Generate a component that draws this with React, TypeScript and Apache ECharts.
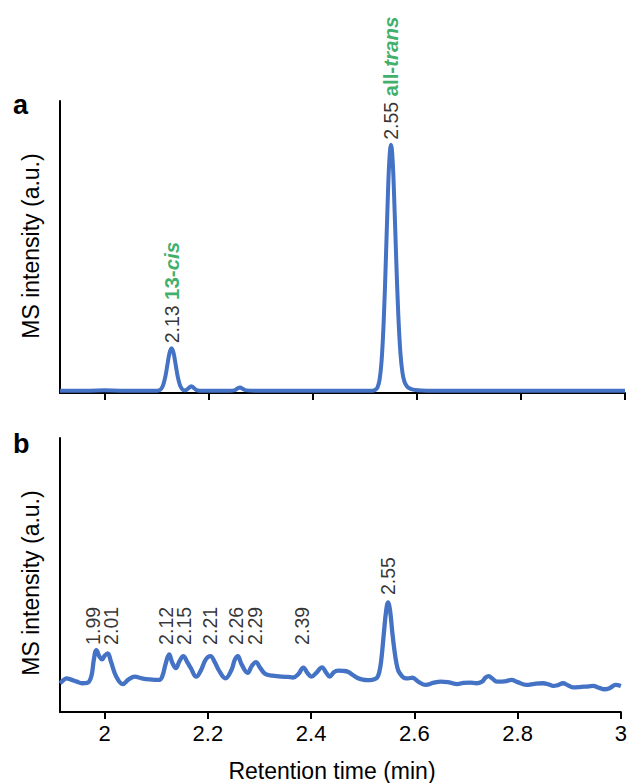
import React, { useEffect, useRef } from "react";
import * as echarts from "echarts";

const X_MIN = 1.9135;
const X_MAX = 3;
const xTickValues = [2, 2.2, 2.4, 2.6, 2.8, 3];

// Panel a: retention time (min), MS intensity (a.u.)
const traceA: [number, number][] = [
  [1.9135, 0.8], [1.94, 0.8], [1.97, 0.8], [2.0, 0.9], [2.03, 0.8], [2.07, 0.8], [2.1, 0.8],
  [2.104, 0.9], [2.108, 1.4], [2.112, 2.8], [2.116, 5.5], [2.12, 9.6], [2.124, 13.6], [2.128, 15.3],
  [2.132, 13.6], [2.136, 9.6], [2.14, 5.5], [2.144, 2.8], [2.148, 1.4], [2.152, 0.9],
  [2.156, 1.0], [2.161, 1.7], [2.166, 2.3], [2.171, 1.7], [2.176, 1.0], [2.182, 0.8],
  [2.21, 0.8], [2.24, 0.8], [2.25, 1.0], [2.255, 1.6], [2.26, 1.9], [2.265, 1.4], [2.272, 0.9],
  [2.29, 0.8], [2.33, 0.8], [2.37, 0.8], [2.41, 0.8], [2.45, 0.8], [2.49, 0.8], [2.514, 0.8],
  [2.52, 1.1], [2.524, 1.9], [2.528, 4.5], [2.532, 11.2], [2.536, 24.6], [2.54, 44.9],
  [2.544, 67.5], [2.547, 80.2], [2.55, 85], [2.553, 80.2], [2.556, 67.5], [2.56, 46],
  [2.564, 27], [2.568, 14], [2.572, 7], [2.576, 3.8], [2.581, 2.2], [2.588, 1.4], [2.597, 1.0],
  [2.62, 0.8], [2.7, 0.8], [2.8, 0.8], [2.9, 0.8], [3.0, 0.8],
];

// Panel b
const traceB: [number, number][] = [
  [1.9135, 10.5], [1.92, 11.6], [1.926, 12.3], [1.935, 11.8], [1.946, 11.1], [1.956, 10.5],
  [1.966, 10.6], [1.974, 12.9], [1.979, 19], [1.984, 22.6], [1.99, 20.2], [1.995, 19.2],
  [2.0, 20.5], [2.006, 21.4], [2.012, 18.5], [2.0225, 12.9], [2.035, 10.2], [2.046, 11.8],
  [2.058, 12.9], [2.072, 12.3], [2.087, 11.9], [2.106, 11.7], [2.112, 13.2], [2.118, 17.5],
  [2.125, 21], [2.131, 18], [2.138, 16], [2.145, 18.6], [2.1525, 20.4], [2.16, 18.2],
  [2.167, 16], [2.1775, 12.9], [2.186, 15], [2.196, 19.2], [2.205, 20.4], [2.213, 18.3],
  [2.221, 15.3], [2.234, 12.3], [2.246, 15.5], [2.252, 19], [2.258, 20.4], [2.265, 17.5],
  [2.277, 14.3], [2.285, 16.8], [2.293, 18.2], [2.301, 16.2], [2.311, 13.9], [2.325, 13.3],
  [2.343, 12.9], [2.355, 12.8], [2.365, 12.6], [2.375, 13.8], [2.385, 16.2], [2.393, 14.2],
  [2.4006, 12.9], [2.41, 14.3], [2.421, 16.3], [2.429, 14.4], [2.436, 12.9], [2.444, 14.5],
  [2.452, 15.1], [2.462, 15.0], [2.471, 14.7], [2.48, 13.6], [2.49, 12.4], [2.5, 11.8],
  [2.5096, 11.6], [2.518, 11.7], [2.5256, 12.2], [2.53, 13.3], [2.534, 16.5], [2.537, 21],
  [2.541, 29], [2.545, 36.5], [2.549, 40], [2.553, 36.8], [2.557, 29.5], [2.561, 23],
  [2.565, 18], [2.569, 15], [2.575, 13.3], [2.581, 12.4], [2.588, 12.3], [2.596, 12.5],
  [2.608, 11.0], [2.622, 9.9], [2.636, 10.6], [2.651, 11.1], [2.667, 10.8], [2.683, 10.2],
  [2.695, 10.6], [2.708, 10.7], [2.72, 10.5], [2.731, 11.1], [2.738, 12.6], [2.744, 13.1],
  [2.751, 12.2], [2.76, 11.1], [2.775, 11.2], [2.788, 11.7], [2.8, 10.9], [2.817, 9.9],
  [2.833, 10.3], [2.849, 10.5], [2.86, 10.1], [2.869, 9.5], [2.878, 9.8], [2.888, 10.5],
  [2.897, 9.8], [2.907, 9.0], [2.92, 9.1], [2.933, 9.3], [2.946, 9.5], [2.958, 8.8],
  [2.968, 8.3], [2.978, 8.7], [2.99, 9.9], [3.0, 9.5],
];

// Peak annotations
const peakTimesA = [2.128, 2.55];
const peakHeightsA = [15.3, 85];
const peakRtA = ["2.13", "2.55"];
const isomerPrefixA = ["13-", "all-"];
const isomerItalicA = ["cis", "trans"];

const labelTimesB = [1.977, 2.012, 2.119, 2.153, 2.204, 2.254, 2.292, 2.383, 2.548];
const labelTextsB = ["1.99", "2.01", "2.12", "2.15", "2.21", "2.26", "2.29", "2.39", "2.55"];
const labelMajorB = [false, false, false, false, false, false, false, false, true];

const FONT = "'Liberation Sans', Arial, Helvetica, sans-serif";
const BLUE = "#4472C4";
const GREEN = "#0c9a44";
const LOW_LEVEL_B = 23.4;
const HIGH_LEVEL_B = 41.6;

export default function App() {
  const ref = useRef<HTMLDivElement>(null);

  useEffect(() => {
    if (!ref.current) return;
    const chart = echarts.init(ref.current, undefined, { renderer: "svg" });

    const xAxisBase = (gridIndex: number, showLabels: boolean) => ({
      gridIndex,
      type: "value",
      min: X_MIN,
      max: X_MAX,
      axisLine: { show: true, onZero: false, lineStyle: { color: "#000", width: 2 } },
      axisTick: {
        show: true,
        customValues: xTickValues,
        length: 7,
        lineStyle: { color: "#000", width: 2 },
      },
      axisLabel: {
        show: showLabels,
        customValues: xTickValues,
        fontSize: 22,
        color: "#000",
        fontFamily: FONT,
        margin: 10,
      },
      splitLine: { show: false },
    });

    const yAxisBase = (gridIndex: number) => ({
      gridIndex,
      type: "value",
      min: 0,
      max: 100,
      axisLine: { show: true, lineStyle: { color: "#000", width: 2 } },
      axisTick: { show: false },
      axisLabel: { show: false },
      splitLine: { show: false },
    });

    const richStyles = {
      n: { fontSize: 19.5, color: "#000", fontFamily: FONT },
      g: { fontSize: 20.5, fontWeight: "bold", color: GREEN, fontFamily: FONT },
      gi: { fontSize: 20.5, fontWeight: "bold", fontStyle: "italic", color: GREEN, fontFamily: FONT },
    };

    const labelBase = {
      show: true,
      position: "top",
      rotate: 90,
      align: "left",
      verticalAlign: "middle",
      fontSize: 19.5,
      color: "#000",
      fontFamily: FONT,
    };

    chart.setOption({
      animation: false,
      grid: [
        { left: 60, top: 101, width: 565, height: 292 },
        { left: 60, top: 438, width: 565, height: 274 },
      ],
      xAxis: [xAxisBase(0, false), xAxisBase(1, true)],
      yAxis: [yAxisBase(0), yAxisBase(1)],
      series: [
        {
          type: "line",
          xAxisIndex: 0,
          yAxisIndex: 0,
          data: traceA,
          showSymbol: false,
          smooth: 0.4,
          lineStyle: { color: BLUE, width: 4 },
          z: 3,
        },
        {
          type: "line",
          xAxisIndex: 1,
          yAxisIndex: 1,
          data: traceB,
          showSymbol: false,
          smooth: 0.4,
          lineStyle: { color: BLUE, width: 4.3 },
          z: 3,
        },
        {
          type: "scatter",
          xAxisIndex: 0,
          yAxisIndex: 0,
          symbolSize: 0.01,
          itemStyle: { color: "transparent" },
          silent: true,
          z: 5,
          data: peakTimesA.map((t, i) => ({
            value: [t, peakHeightsA[i]],
            label: {
              ...labelBase,
              distance: 5,
              formatter: `{n|${peakRtA[i]}} {g|${isomerPrefixA[i]}}{gi|${isomerItalicA[i]}}`,
              rich: richStyles,
            },
          })),
        },
        {
          type: "scatter",
          xAxisIndex: 1,
          yAxisIndex: 1,
          symbolSize: 0.01,
          itemStyle: { color: "transparent" },
          silent: true,
          z: 5,
          data: labelTimesB.map((t, i) => ({
            value: [t, labelMajorB[i] ? HIGH_LEVEL_B : LOW_LEVEL_B],
            label: { ...labelBase, distance: 3, formatter: labelTextsB[i] },
          })),
        },
      ],
      graphic: [
        {
          type: "text",
          x: 13,
          y: 118,
          style: { text: "a", fontSize: 27, fontWeight: "bold", fontFamily: FONT, fill: "#000", align: "left", verticalAlign: "bottom" },
        },
        {
          type: "text",
          x: 13,
          y: 457,
          style: { text: "b", fontSize: 27, fontWeight: "bold", fontFamily: FONT, fill: "#000", align: "left", verticalAlign: "bottom" },
        },
        {
          type: "text",
          x: 31,
          y: 246,
          rotation: Math.PI / 2,
          style: { text: "MS intensity (a.u.)", fontSize: 23, fontFamily: FONT, fill: "#000", align: "center", verticalAlign: "middle" },
        },
        {
          type: "text",
          x: 31,
          y: 583,
          rotation: Math.PI / 2,
          style: { text: "MS intensity (a.u.)", fontSize: 23, fontFamily: FONT, fill: "#000", align: "center", verticalAlign: "middle" },
        },
        {
          type: "text",
          x: 332,
          y: 771,
          style: { text: "Retention time (min)", fontSize: 23, fontFamily: FONT, fill: "#000", align: "center", verticalAlign: "middle" },
        },
      ],
    });

    return () => chart.dispose();
  }, []);

  return (
    <div
      ref={ref}
      style={{ position: "absolute", left: 0, top: 0, width: 630, height: 783 }}
    />
  );
}
